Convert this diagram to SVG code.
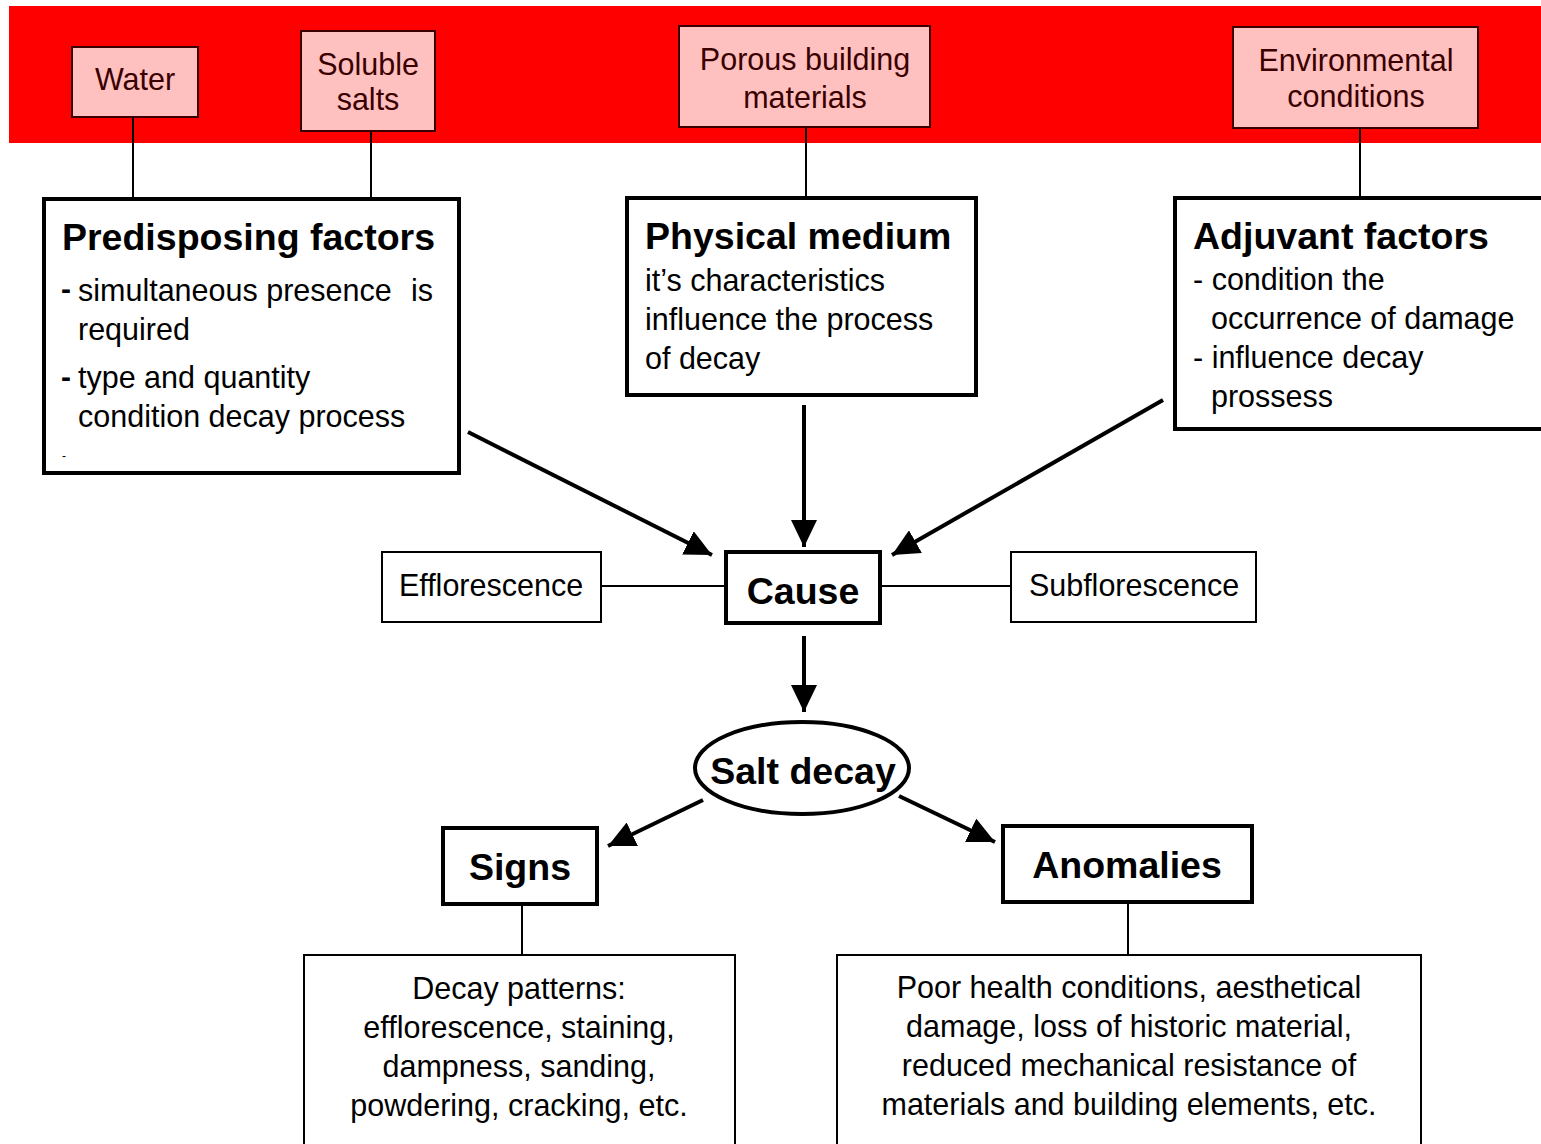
<svg xmlns="http://www.w3.org/2000/svg" width="1541" height="1144" viewBox="0 0 1541 1144">
<defs>
<style>
text{font-family:"Liberation Sans",Arial,sans-serif;fill:#000}
.pink{fill:#FFC0C0;stroke:#3a0000;stroke-width:2}
.ptxt{font-size:30.5px;fill:#3a0000;text-anchor:middle}
.thick{fill:#fff;stroke:#000;stroke-width:4}
.thin{fill:#fff;stroke:#000;stroke-width:2}
.title{font-size:37.5px;font-weight:bold}
.body{font-size:30.5px}
.mid{text-anchor:middle}
.link{stroke:#000;stroke-width:2;fill:none}
.arrow{stroke:#000;stroke-width:4;fill:none;marker-end:url(#ah)}
</style>
<marker id="ah" markerUnits="userSpaceOnUse" markerWidth="28" markerHeight="26" refX="27" refY="13" orient="auto">
<path d="M0,0 L27,13 L0,26 z" fill="#000"/>
</marker>
</defs>
<rect x="9" y="6" width="1532" height="137" fill="#FF0000"/>

<g id="connectors">
<line class="link" x1="133" y1="117" x2="133" y2="199"/>
<line class="link" x1="371" y1="131" x2="371" y2="199"/>
<line class="link" x1="806" y1="127" x2="806" y2="199"/>
<line class="link" x1="1360" y1="128" x2="1360" y2="199"/>
<line class="link" x1="601" y1="586" x2="725" y2="586"/>
<line class="link" x1="880" y1="586" x2="1011" y2="586"/>
<line class="link" x1="522" y1="904" x2="522" y2="955"/>
<line class="link" x1="1128" y1="902" x2="1128" y2="955"/>
<line class="arrow" x1="468" y1="432" x2="712" y2="555"/>
<line class="arrow" x1="804" y1="405" x2="804" y2="547"/>
<line class="arrow" x1="1163" y1="400" x2="892" y2="555"/>
<line class="arrow" x1="804" y1="636" x2="804" y2="712"/>
<line class="arrow" x1="703" y1="800" x2="608" y2="846"/>
<line class="arrow" x1="899" y1="796" x2="995" y2="842"/>
</g>

<g id="water">
<rect class="pink" x="72" y="47" width="126" height="70"/>
<text class="ptxt" x="135" y="90">Water</text>
</g>
<g id="soluble-salts">
<rect class="pink" x="301" y="31" width="134" height="100"/>
<text class="ptxt" x="368" y="75">Soluble</text>
<text class="ptxt" x="368" y="110">salts</text>
</g>
<g id="porous">
<rect class="pink" x="679" y="26" width="251" height="101"/>
<text class="ptxt" x="805" y="70">Porous building</text>
<text class="ptxt" x="805" y="108">materials</text>
</g>
<g id="environmental">
<rect class="pink" x="1233" y="27" width="245" height="101"/>
<text class="ptxt" x="1356" y="71">Environmental</text>
<text class="ptxt" x="1356" y="107">conditions</text>
</g>

<g id="predisposing">
<rect class="thick" x="44" y="199" width="415" height="274"/>
<text class="title" x="62" y="250">Predisposing factors</text>
<text x="61" y="299" style="font-size:30px;font-weight:bold">-</text>
<text class="body" x="78" y="301">simultaneous presence</text>
<text class="body" x="411" y="301">is</text>
<text class="body" x="78" y="340">required</text>
<text x="61" y="387" style="font-size:30px;font-weight:bold">-</text>
<text class="body" x="78" y="388">type and quantity</text>
<text class="body" x="78" y="427">condition decay process</text>
<text x="62" y="460" style="font-size:12px">-</text>
</g>

<g id="physical-medium">
<rect class="thick" x="627" y="198" width="349" height="197"/>
<text class="title" x="645" y="249">Physical medium</text>
<text class="body" x="645" y="291">it’s characteristics</text>
<text class="body" x="645" y="330">influence the process</text>
<text class="body" x="645" y="369">of decay</text>
</g>

<g id="adjuvant">
<rect class="thick" x="1175" y="198" width="380" height="231"/>
<text class="title" x="1193" y="249">Adjuvant factors</text>
<text class="body" x="1193" y="290">- condition the</text>
<text class="body" x="1211" y="329">occurrence of damage</text>
<text class="body" x="1193" y="368">- influence decay</text>
<text class="body" x="1211" y="407">prossess</text>
</g>

<g id="efflorescence">
<rect class="thin" x="382" y="552" width="219" height="70"/>
<text class="body mid" x="491" y="596">Efflorescence</text>
</g>
<g id="cause">
<rect class="thick" x="726" y="552" width="154" height="71"/>
<text class="title mid" x="803" y="604">Cause</text>
</g>
<g id="subflorescence">
<rect class="thin" x="1011" y="552" width="245" height="70"/>
<text class="body mid" x="1134" y="596">Subflorescence</text>
</g>

<g id="salt-decay">
<ellipse cx="802" cy="768" rx="107" ry="46" fill="#fff" stroke="#000" stroke-width="4"/>
<text class="title mid" x="803" y="784">Salt decay</text>
</g>

<g id="signs">
<rect class="thick" x="443" y="828" width="154" height="76"/>
<text class="title mid" x="520" y="880">Signs</text>
</g>
<g id="anomalies">
<rect class="thick" x="1003" y="826" width="249" height="76"/>
<text class="title mid" x="1127" y="878">Anomalies</text>
</g>

<g id="decay-patterns">
<rect class="thin" x="304" y="955" width="431" height="200"/>
<text class="body mid" x="519" y="999">Decay patterns:</text>
<text class="body mid" x="519" y="1038">efflorescence, staining,</text>
<text class="body mid" x="519" y="1077">dampness, sanding,</text>
<text class="body mid" x="519" y="1116">powdering, cracking, etc.</text>
</g>
<g id="anomalies-detail">
<rect class="thin" x="837" y="955" width="584" height="200"/>
<text class="body mid" x="1129" y="998">Poor health conditions, aesthetical</text>
<text class="body mid" x="1129" y="1037">damage, loss of historic material,</text>
<text class="body mid" x="1129" y="1076">reduced mechanical resistance of</text>
<text class="body mid" x="1129" y="1115">materials and building elements, etc.</text>
</g>
</svg>
